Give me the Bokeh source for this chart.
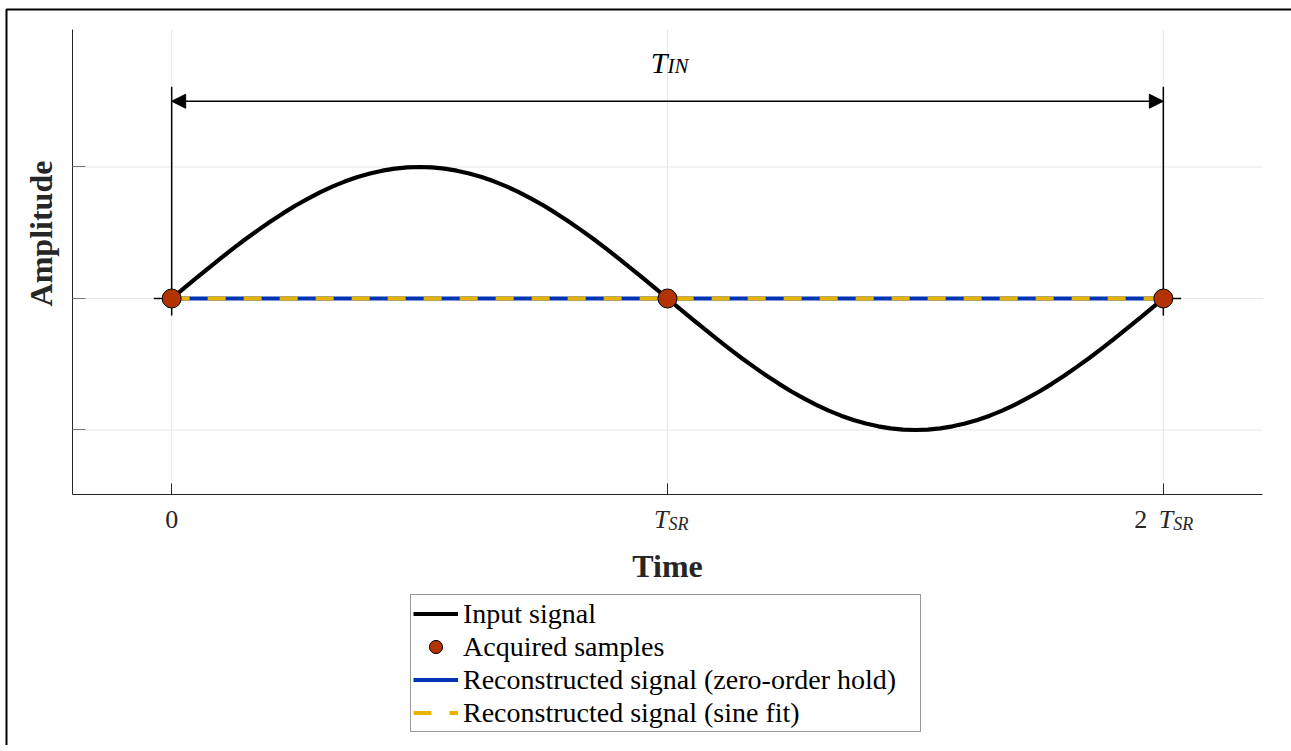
import math
from bokeh.plotting import figure
from bokeh.models import (Label, Legend, LegendItem, Arrow, NormalHead,
                          FixedTicker, Range1d, InlineStyleSheet)
from bokeh.embed import file_html
from bokeh.resources import INLINE

# ---------------- data ----------------
input_t = [0.000, 0.025, 0.050, 0.075, 0.100, 0.125, 0.150, 0.175, 0.200, 0.225,
           0.250, 0.275, 0.300, 0.325, 0.350, 0.375, 0.400, 0.425, 0.450, 0.475,
           0.500, 0.525, 0.550, 0.575, 0.600, 0.625, 0.650, 0.675, 0.700, 0.725,
           0.750, 0.775, 0.800, 0.825, 0.850, 0.875, 0.900, 0.925, 0.950, 0.975,
           1.000, 1.025, 1.050, 1.075, 1.100, 1.125, 1.150, 1.175, 1.200, 1.225,
           1.250, 1.275, 1.300, 1.325, 1.350, 1.375, 1.400, 1.425, 1.450, 1.475,
           1.500, 1.525, 1.550, 1.575, 1.600, 1.625, 1.650, 1.675, 1.700, 1.725,
           1.750, 1.775, 1.800, 1.825, 1.850, 1.875, 1.900, 1.925, 1.950, 1.975, 2.000]
input_y = [0.000, 0.079, 0.156, 0.233, 0.309, 0.383, 0.454, 0.522, 0.588, 0.649,
           0.707, 0.760, 0.809, 0.853, 0.891, 0.924, 0.951, 0.972, 0.988, 0.997,
           1.000, 0.997, 0.988, 0.972, 0.951, 0.924, 0.891, 0.853, 0.809, 0.760,
           0.707, 0.649, 0.588, 0.522, 0.454, 0.383, 0.309, 0.233, 0.156, 0.079,
           0.000, -0.079, -0.156, -0.233, -0.309, -0.383, -0.454, -0.522, -0.588, -0.649,
           -0.707, -0.760, -0.809, -0.853, -0.891, -0.924, -0.951, -0.972, -0.988, -0.997,
           -1.000, -0.997, -0.988, -0.972, -0.951, -0.924, -0.891, -0.853, -0.809, -0.760,
           -0.707, -0.649, -0.588, -0.522, -0.454, -0.383, -0.309, -0.233, -0.156, -0.079, 0.000]

sample_t = [0, 1, 2]
sample_y = [0, 0, 0]

zoh_t = [0, 1, 1, 2]
zoh_y = [0, 0, 0, 0]

fit_t = [0, 1, 2]
fit_y = [0, 0, 0]

x_ticks = [0, 1, 2]
tick_number = ["0", "", "2"]
tick_symbol = ["", "T", "T"]
tick_sub = ["", "SR", "SR"]
y_ticks = [-1, 0, 1]

period_start = 0
period_end = 2
period_level = 1.5
guide_x = [0, 2]
guide_bottom = -0.13
guide_top = 1.61
cross_x = [-0.036, 2.036]

legend_labels = ["Input signal", "Acquired samples",
                 "Reconstructed signal (zero-order hold)",
                 "Reconstructed signal (sine fit)"]

# ---------------- style / geometry ----------------
FONT = "Liberation Serif"
TXT = "#262626"
C_IN = "#000000"
C_SAMPLE = "#b33300"
C_ZOH = "#0033b3"
C_FIT = "#e6b300"

W, H = 1291, 745
M_L, M_R, M_T, M_B = 72, 29, 29, 251       # pixel margins around the axes box
X0, X1 = -0.2, 2.2                         # axes box limits (data)
Y0, Y1 = -1.4905, 2.0456
sx = (W - M_L - M_R) / (X1 - X0)
sy = (H - M_T - M_B) / (Y1 - Y0)
XL, XR = X0 - M_L / sx, X1 + M_R / sx
YB, YT = Y0 - M_B / sy, Y1 + M_T / sy

p = figure(width=W, height=H,
           x_range=Range1d(XL, XR), y_range=Range1d(YB, YT),
           output_backend="svg", toolbar_location=None,
           min_border=0)
p.stylesheets = [InlineStyleSheet(css="""
:host, * { overflow: hidden !important; scrollbar-width: none !important; }
svg { display: block; }
""")]

p.outline_line_color = None
p.background_fill_color = "white"
p.border_fill_color = "white"
p.grid.visible = False

# figure frame (left and top edges are visible in the window)
fx = XL + 6 / sx
fy = YT - 9 / sy
p.line([fx, fx, XR], [YB, fy, fy], line_color="black", line_width=2)

# grid lines limited to the axes box
p.segment(x0=x_ticks, y0=[Y0] * len(x_ticks), x1=x_ticks, y1=[Y1] * len(x_ticks),
          line_color="#e6e6e6", line_width=1)
p.segment(x0=[X0] * len(y_ticks), y0=y_ticks, x1=[X1] * len(y_ticks), y1=y_ticks,
          line_color="#e6e6e6", line_width=1)

p.xaxis.fixed_location = Y0
p.yaxis.fixed_location = X0
p.xaxis.bounds = (X0, X1)
p.yaxis.bounds = (Y0, Y1)
p.xaxis.ticker = FixedTicker(ticks=x_ticks)
p.yaxis.ticker = FixedTicker(ticks=y_ticks)
p.xaxis.major_label_overrides = {t: "" for t in x_ticks}
p.yaxis.major_label_overrides = {t: "" for t in y_ticks}
p.axis.minor_tick_line_color = None
p.axis.axis_line_color = TXT
p.axis.axis_line_width = 1
p.axis.major_tick_out = 0
p.xaxis.major_tick_in = 11
p.yaxis.major_tick_in = 13
p.xaxis.major_tick_line_color = TXT
p.yaxis.major_tick_line_color = "#777777"

# guides (period markers)
for gx in guide_x:
    p.line([gx, gx], [guide_bottom, guide_top], line_color="black", line_width=1.5)
p.line(cross_x, [0, 0], line_color="black", line_width=1.5)

p.add_layout(Arrow(x_start=period_start, y_start=period_level,
                   x_end=period_end, y_end=period_level,
                   line_color="black", line_width=1.5,
                   start=NormalHead(size=14, fill_color="black", line_color="black"),
                   end=NormalHead(size=14, fill_color="black", line_color="black")))

r_in = p.line(input_t, input_y, line_color=C_IN, line_width=4.2)
r_zoh = p.line(zoh_t, zoh_y, line_color=C_ZOH, line_width=4)
r_fit = p.line(fit_t, fit_y, line_color=C_FIT, line_width=4, line_dash="18 18")
r_smp = p.scatter(sample_t, sample_y, size=19, fill_color=C_SAMPLE,
                  line_color="black", line_width=1)

legend = Legend(items=[LegendItem(label=legend_labels[0], renderers=[r_in]),
                       LegendItem(label=legend_labels[1], renderers=[r_smp]),
                       LegendItem(label=legend_labels[2], renderers=[r_zoh]),
                       LegendItem(label=legend_labels[3], renderers=[r_fit])],
                location=(410, 13),
                label_text_font=FONT, label_text_font_size="28px",
                label_text_color="black",
                glyph_width=45, glyph_height=33, label_height=33, label_width=455,
                spacing=0, padding=2, margin=0, label_standoff=5,
                border_line_color="#333333", border_line_width=1,
                background_fill_color="white", background_fill_alpha=1)
p.add_layout(legend)


def lab(x, y, text, size, style="normal", align="left", dx=0, dy=0,
        color=TXT, angle=0):
    p.add_layout(Label(x=x, y=y, text=text, x_offset=dx, y_offset=dy,
                       text_font=FONT, text_font_size=size,
                       text_font_style=style, text_align=align,
                       text_baseline="alphabetic", text_color=color,
                       angle=angle))


# tick labels
for t, num, sym, sub in zip(x_ticks, tick_number, tick_symbol, tick_sub):
    if sym == "":
        lab(t, Y0, num, "26px", align="center", dy=-25)
    else:
        j = 1 if num == "" else 10
        if num:
            lab(t, Y0, num, "26px", align="right", dx=-16, dy=-25)
        lab(t, Y0, sym, "26px", style="italic", align="right", dx=j, dy=-25)
        lab(t, Y0, sub, "18px", style="italic", align="left", dx=j, dy=-29)

# axis titles
lab(1, Y0, "Time", "32px", style="bold", align="center", dy=-71)
lab(X0, 0, "Amplitude", "32px", style="bold", align="center", dx=-32, dy=65,
    angle=math.pi / 2)

# period label
lab(1, period_level, "T", "30px", style="italic", align="right", dy=39, color="black")
lab(1, period_level, "IN", "21px", style="italic", align="left", dy=35, color="black")

open("out.html", "w").write(file_html(p, INLINE))
